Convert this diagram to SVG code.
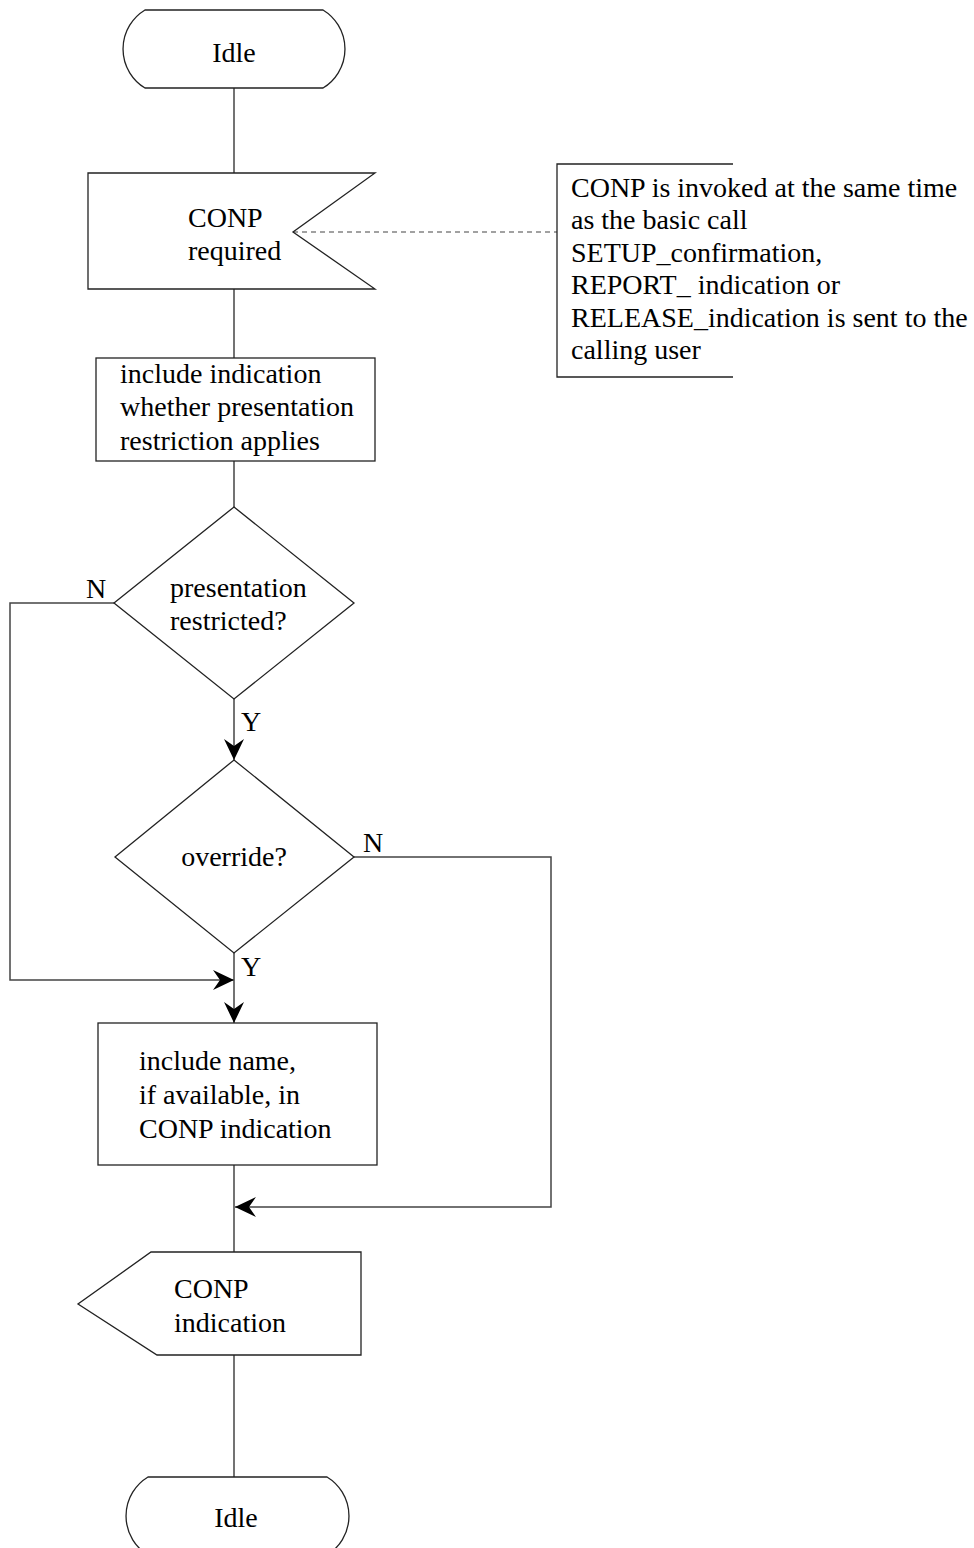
<svg xmlns="http://www.w3.org/2000/svg" width="974" height="1548" viewBox="0 0 974 1548">
<style>
  .shape { fill: #fff; stroke: #222; stroke-width: 1.3; }
  .line { fill: none; stroke: #444; stroke-width: 1.5; }
  .dash { fill: none; stroke: #444; stroke-width: 1.2; stroke-dasharray: 5 4; }
  text { font-family: "Liberation Serif", "Times New Roman", serif; font-size: 28px; fill: #000; }
  .mid { text-anchor: middle; }
</style>
<defs>
  <marker id="arr" markerUnits="userSpaceOnUse" markerWidth="24" markerHeight="24" viewBox="-22 -12 24 24" refX="0" refY="0" orient="auto">
    <path d="M0,0 L-21,-10 L-14,0 L-21,10 Z" fill="#000"/>
  </marker>
</defs>
<rect width="974" height="1548" fill="#fff"/>

<g id="connectors">
  <path class="line" d="M234,88 V173"/>
  <path class="line" d="M234,289 V358"/>
  <path class="line" d="M234,461 V507"/>
  <path class="line" d="M234,699 V760" marker-end="url(#arr)"/>
  <path class="line" d="M115,603 H10 V980 H234" marker-end="url(#arr)"/>
  <path class="line" d="M234,953 V1023" marker-end="url(#arr)"/>
  <path class="line" d="M354,857 H551 V1207 H235" marker-end="url(#arr)"/>
  <path class="line" d="M234,1165 V1252"/>
  <path class="line" d="M234,1355 V1477"/>
  <path class="dash" d="M293,232 H557"/>
</g>

<g id="idle-top">
  <path class="shape" d="M145,10 H323 A45.6,45.6 0 0 1 323,88 H145 A45.6,45.6 0 0 1 145,10 Z"/>
  <text class="mid" x="234" y="62">Idle</text>
</g>

<g id="conp-required">
  <path class="shape" d="M88,173 H375 L293,232 L375,289 H88 Z"/>
  <text x="188" y="227">CONP</text>
  <text x="188" y="260">required</text>
</g>

<g id="note">
  <path fill="none" stroke="#222" stroke-width="1.3" d="M733,164 H557 V377 H733"/>
  <text x="571" y="197">CONP is invoked at the same time</text>
  <text x="571" y="229">as the basic call</text>
  <text x="571" y="262">SETUP_confirmation,</text>
  <text x="571" y="294">REPORT_ indication or</text>
  <text x="571" y="327">RELEASE_indication is sent to the</text>
  <text x="571" y="359">calling user</text>
</g>

<g id="include-indication">
  <rect class="shape" x="96" y="358" width="279" height="103"/>
  <text x="120" y="383">include indication</text>
  <text x="120" y="416">whether presentation</text>
  <text x="120" y="450">restriction applies</text>
</g>

<g id="presentation-restricted">
  <path class="shape" d="M234,507 L354,603 L234,699 L114,603 Z"/>
  <text x="170" y="597">presentation</text>
  <text x="170" y="630">restricted?</text>
  <text x="86" y="598">N</text>
  <text x="241" y="731">Y</text>
</g>

<g id="override">
  <path class="shape" d="M234,760 L354,857 L234,953 L115,857 Z"/>
  <text class="mid" x="234" y="866">override?</text>
  <text x="363" y="852">N</text>
  <text x="241" y="976">Y</text>
</g>

<g id="include-name">
  <rect class="shape" x="98" y="1023" width="279" height="142"/>
  <text x="139" y="1070">include name,</text>
  <text x="139" y="1104">if available, in</text>
  <text x="139" y="1138">CONP indication</text>
</g>

<g id="conp-indication">
  <path class="shape" d="M151,1252 H361 V1355 H157 L78,1304 Z"/>
  <text x="174" y="1298">CONP</text>
  <text x="174" y="1332">indication</text>
</g>

<g id="idle-bottom">
  <path class="shape" d="M148,1477 H327 A45.6,45.6 0 0 1 327,1555 H148 A45.6,45.6 0 0 1 148,1477 Z"/>
  <text class="mid" x="236" y="1527">Idle</text>
</g>
</svg>
